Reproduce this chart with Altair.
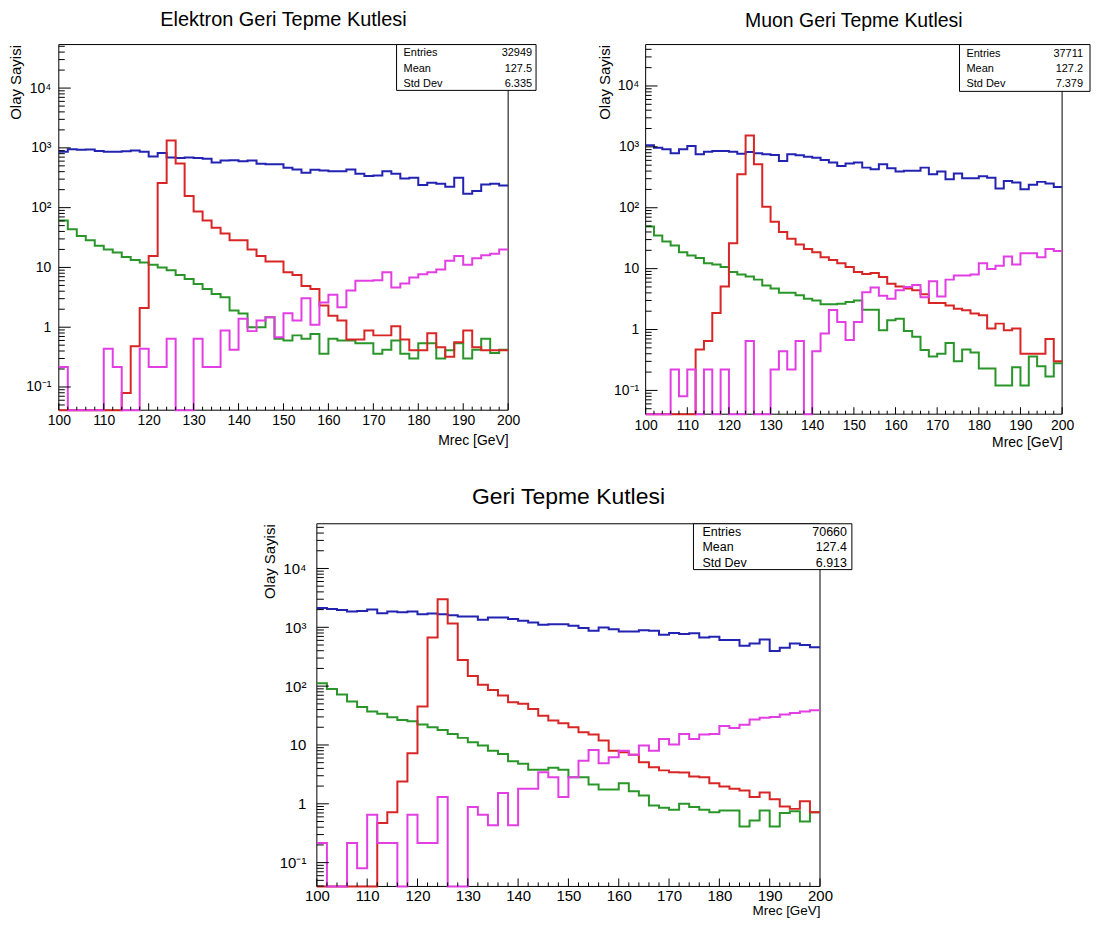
import altair as alt
import pandas as pd

FONT = "Liberation Sans, Arial, Helvetica, sans-serif"

# bin low edges (2 GeV bins from 100 to 200) plus the closing edge
BIN_EDGES = list(range(100, 202, 2))

# ---------------- Elektron ----------------
e_blue = [860, 950, 930, 940, 890, 860, 860, 880, 900, 860, 720, 820, 690, 680, 690, 680, 660, 570, 615, 620,
          600, 615, 540, 530, 530, 464, 435, 383, 430, 419, 408, 408, 435, 369, 337, 346, 408, 369, 308, 316,
          239, 261, 251, 224, 316, 171, 190, 245, 251, 235]
e_red = [0, 0, 0, 0, 0, 0, 0, 0.079, 0.48, 2.1, 15.6, 258, 1325, 548, 157, 86, 61, 46, 37, 28.5,
         28.5, 20, 15.6, 12.6, 12.6, 8.3, 7.5, 4.9, 4.35, 2.3, 1.56, 1.29, 0.62, 0.62, 0.88, 0.73, 0.73, 1.04, 0.62, 0.41,
         0.41, 0.79, 0.46, 0.32, 0.56, 0.88, 0.46, 0.41, 0.41, 0.41]
e_green = [61, 43.5, 33.7, 28.5, 23, 20, 17.8, 15, 13.3, 12.1, 11.1, 10, 9.0, 7.5, 6.4, 5.3, 4.35, 3.6, 3.16, 1.9,
           1.7, 1.0, 1.0, 1.47, 0.64, 0.6, 0.73, 0.64, 0.77, 0.36, 0.64, 0.6, 0.6, 0.54, 0.54, 0.36, 0.42, 0.6, 0.36, 0.3,
           0.54, 0.54, 0.3, 0.41, 0.54, 0.3, 0.42, 0.64, 0.37, 0.42]
e_magenta = [0.215, 0, 0, 0, 0, 0.435, 0.215, 0, 0, 0.435, 0.215, 0.215, 0.64, 0, 0, 0.64, 0.215, 0.215, 0.88, 0.42,
             1.38, 0.86, 1.29, 1.47, 0.68, 1.71, 1.29, 3.04, 1.1, 2.6, 3.5, 2.15, 4.1, 6.0, 6.0, 6.1, 8.3, 4.6, 5.4, 6.8,
             7.7, 8.3, 9.2, 12.9, 15.6, 11.1, 14.3, 16, 17, 20]

# ---------------- Muon ----------------
m_blue = [1060, 970, 910, 783, 910, 1030, 754, 834, 855, 855, 834, 773, 824, 783, 754, 735, 587, 754, 727, 690,
          665, 609, 551, 486, 531, 551, 456, 429, 518, 445, 393, 404, 404, 456, 355, 393, 294, 364, 306, 306,
          330, 311, 207, 276, 259, 202, 238, 266, 250, 220]
m_red = [0, 0, 0, 0, 0, 0, 0.47, 0.65, 1.87, 5.1, 26, 355, 1540, 518, 104, 59, 40, 31, 25, 21,
         18.6, 15.4, 13.9, 12.3, 10.6, 8.8, 8.2, 8.5, 7.3, 5.65, 5.1, 4.7, 4.4, 3.8, 2.73, 2.73, 2.47, 2.2, 2.07, 1.83,
         1.72, 1.04, 1.25, 0.97, 1.04, 0.4, 0.4, 0.4, 0.7, 0.3]
m_green = [49, 35, 28, 24, 18.6, 16.4, 15, 12.3, 11.7, 10.6, 8.8, 8.0, 7.4, 6.6, 5.3, 4.7, 4.0, 4.0, 3.64, 3.2,
           3.0, 2.6, 2.6, 2.66, 2.83, 3.0, 2.12, 2.12, 0.97, 1.42, 1.5, 0.95, 0.76, 0.46, 0.36, 0.4, 0.6, 0.3, 0.47, 0.42,
           0.23, 0.23, 0.12, 0.12, 0.24, 0.12, 0.36, 0.25, 0.17, 0.28]
m_magenta = [0, 0, 0, 0.22, 0.08, 0.22, 0, 0.22, 0, 0.22, 0, 0, 0.65, 0, 0, 0.22, 0.44, 0.22, 0.65, 0,
             0.44, 0.86, 2.1, 1.33, 0.67, 1.33, 4.1, 4.9, 3.6, 3.2, 4.4, 5.0, 5.4, 3.4, 6.2, 3.5, 6.6, 7.7, 7.7, 8.0,
             12.3, 9.9, 11.2, 15.8, 11.7, 17.9, 17.9, 15.4, 21, 19.5]

# ---------------- Combined ----------------
c_blue = [2130, 2040, 1960, 1860, 1900, 2000, 1740, 1860, 1800, 1860, 1670, 1720, 1670, 1610, 1530, 1530, 1340, 1470, 1470, 1380,
          1290, 1210, 1100, 1130, 1130, 1060, 970, 870, 995, 930, 850, 850, 890, 870, 746, 798, 770, 790, 673, 690,
          606, 610, 486, 530, 620, 395, 450, 530, 500, 460]
c_red = [0, 0, 0, 0, 0, 0, 0.47, 0.72, 2.4, 7.2, 45, 673, 3000, 1160, 277, 149, 106, 86, 69, 53,
         50, 41, 31.5, 26, 23.4, 20, 16.4, 15, 11.9, 8.0, 7.5, 6.8, 5.1, 4.2, 3.7, 3.45, 3.4, 2.9, 2.84, 2.24,
         1.97, 1.8, 1.68, 1.3, 1.55, 1.2, 0.9, 0.82, 1.1, 0.72]
c_green = [112, 89, 72, 55, 44, 37, 34, 29.6, 26.6, 25.3, 22.2, 20, 18, 15.4, 13.2, 11.1, 9.8, 8.0, 7.05, 5.3,
           4.8, 3.8, 3.8, 4.1, 3.8, 2.84, 2.84, 2.13, 1.75, 1.75, 2.24, 1.64, 1.38, 0.94, 0.86, 0.79, 1.0, 0.88, 0.79, 0.72,
           0.77, 0.77, 0.41, 0.52, 0.77, 0.41, 0.7, 0.75, 0.5, 0.72]
c_magenta = [0.215, 0, 0, 0.215, 0.08, 0.65, 0.215, 0.215, 0, 0.65, 0.215, 0.215, 1.3, 0, 0, 0.88, 0.65, 0.43, 1.52, 0.43,
             1.8, 1.8, 3.45, 2.84, 1.3, 2.84, 5.4, 8.2, 4.9, 6.2, 8.0, 6.8, 9.8, 8.0, 12.6, 10.2, 15.4, 12.6, 15, 15.4,
             21, 19.5, 22, 27, 29, 30, 33, 35, 37, 39]

STAT_LABELS = ["Entries", "Mean", "Std Dev"]
e_stats = ["32949", "127.5", "6.335"]
m_stats = ["37711", "127.2", "7.379"]
c_stats = ["70660", "127.4", "6.913"]

X_LABELS = [100, 110, 120, 130, 140, 150, 160, 170, 180, 190, 200]
X_MINOR = [v for v in BIN_EDGES if v % 10 != 0]
Y_MAJOR = [0.1, 1, 10, 100, 1000, 10000]
Y_MINOR_ALL = [k * 10.0 ** n for n in range(-2, 5) for k in range(2, 10)]

COLORS = ["#2323b2", "#2a962a", "#d82626", "#e33ee3"]

Y_LABEL_EXPR = ("datum.value < 0.5 ? '10\u207b\u00b9' : datum.value < 5 ? '1' : datum.value < 50 ? '10' : "
                "datum.value < 500 ? '10\u00b2' : datum.value < 5000 ? '10\u00b3' : '10\u2074'")

one = pd.DataFrame({"a": [0]})


def panel(series, stats, title, w, h, ydom, p):
    xs = alt.Scale(domain=[100, 200], nice=False, zero=False)
    ys = alt.Scale(type="log", domain=ydom, nice=False, clamp=True)
    xaxis = alt.Axis(values=X_LABELS, ticks=False, domain=False, grid=False, labelFlush=False,
                     labelOverlap=False, labelFont=FONT, labelFontSize=p["lfs"], labelColor="black",
                     labelPadding=p["xlp"], title="Mrec [GeV]", titleFont=FONT, titleFontSize=p["tfs"],
                     titleFontWeight="normal", titleColor="black", titleX=w, titleY=p["mrec_y"],
                     titleAlign="right", titleBaseline="middle")
    yaxis = alt.Axis(values=Y_MAJOR, labelExpr=Y_LABEL_EXPR, ticks=False, domain=False, grid=False,
                     labelOverlap=False, labelFlush=False, labelFont=FONT, labelFontSize=p["lfs"],
                     labelColor="black", labelPadding=p["ylp"], title="Olay Sayisi", titleFont=FONT,
                     titleFontSize=p["ytfs"], titleFontWeight="normal", titleColor="black",
                     titleX=p["ytx"], titleY=0, titleAngle=270, titleAlign="right",
                     titleBaseline="middle")
    layers = []
    layers.append(alt.Chart(one).mark_rect(fillOpacity=0, stroke="black", strokeWidth=1).encode(
        x=alt.value(0), x2=alt.value(w), y=alt.value(0), y2=alt.value(h)))
    for vals, col in zip(series, COLORS):
        df = pd.DataFrame({"m": BIN_EDGES, "n": list(vals) + [vals[-1]]})
        ch = alt.Chart(df).transform_calculate(plotn="max(datum.n, 0.001)").mark_line(
            interpolate="step-after", color=col, strokeWidth=2).encode(
            x=alt.X("m:Q", scale=xs, axis=xaxis),
            y=alt.Y("plotn:Q", scale=ys, axis=yaxis))
        layers.append(ch)
    ymin = [v for v in Y_MINOR_ALL if ydom[0] < v < ydom[1]]
    layers.append(alt.Chart(pd.DataFrame({"plotn": Y_MAJOR})).mark_rule(
        color="black", strokeWidth=1).encode(
        y=alt.Y("plotn:Q", scale=ys, axis=yaxis), x=alt.value(0), x2=alt.value(p["ymaj"])))
    layers.append(alt.Chart(pd.DataFrame({"plotn": ymin})).mark_rule(color="black", strokeWidth=1).encode(
        y=alt.Y("plotn:Q", scale=ys, axis=yaxis), x=alt.value(0), x2=alt.value(p["ymin"])))
    layers.append(alt.Chart(pd.DataFrame({"m": X_LABELS})).mark_rule(color="black", strokeWidth=1).encode(
        x=alt.X("m:Q", scale=xs, axis=xaxis), y=alt.value(h), y2=alt.value(h - p["xmaj"])))
    layers.append(alt.Chart(pd.DataFrame({"m": X_MINOR})).mark_rule(color="black", strokeWidth=1).encode(
        x=alt.X("m:Q", scale=xs, axis=xaxis), y=alt.value(h), y2=alt.value(h - p["xmin"])))
    # statistics box
    layers.append(alt.Chart(one).mark_rect(fill="white", stroke="black", strokeWidth=1).encode(
        x=alt.value(w + p["bx0"]), x2=alt.value(w + p["bx1"]), y=alt.value(0), y2=alt.value(p["by1"])))
    for lab, val, ry in zip(STAT_LABELS, stats, p["rows"]):
        layers.append(alt.Chart(one).mark_text(text=lab, align="left", baseline="middle", font=FONT,
                                               fontSize=p["sfs"], color="black").encode(
            x=alt.value(w + p["lx"]), y=alt.value(ry)))
        layers.append(alt.Chart(one).mark_text(text=val, align="right", baseline="middle", font=FONT,
                                               fontSize=p["sfs"], color="black").encode(
            x=alt.value(w + p["vx"]), y=alt.value(ry)))
    return alt.layer(*layers).properties(
        width=w, height=h,
        title=alt.TitleParams(text=title, font=FONT, fontSize=p["title_fs"], fontWeight="normal",
                              color="black", anchor="middle", frame="group", baseline="alphabetic",
                              offset=p["title_off"]))


p1 = panel([e_blue, e_green, e_red, e_magenta], e_stats, "Elektron Geri Tepme Kutlesi", 451, 367,
           [0.0409, 53500],
           dict(lfs=14, xlp=3, tfs=14, ytfs=15, mrec_y=30, ylp=8, ytx=-43, ymaj=12, ymin=6, xmaj=7, xmin=3.5,
                bx0=-112, bx1=28, by1=46, rows=[8.7, 24.3, 39.7], lx=-105, vx=24, sfs=11,
                title_fs=20, title_off=-2))
p2 = panel([m_blue, m_green, m_red, m_magenta], m_stats, "Muon Geri Tepme Kutlesi", 418, 371,
           [0.0407, 47900],
           dict(lfs=14, xlp=4, tfs=14, ytfs=15, mrec_y=28, ylp=7, ytx=-41, ymaj=12, ymin=6, xmaj=7, xmin=3.5,
                bx0=-103, bx1=28, by1=47, rows=[9.7, 24.7, 39.7], lx=-96, vx=21, sfs=11,
                title_fs=19.5, title_off=-2))
p3 = panel([c_blue, c_green, c_red, c_magenta], c_stats, "Geri Tepme Kutlesi", 505, 364,
           [0.0394, 57500],
           dict(lfs=15, xlp=2, tfs=13.5, ytfs=15, mrec_y=24.5, ylp=11, ytx=-48, ymaj=12, ymin=7, xmaj=8, xmin=4,
                bx0=-127, bx1=32, by1=46, rows=[8.4, 23.5, 39], lx=-118, vx=27, sfs=12.5,
                title_fs=23, title_off=-4))

spacer = alt.Chart(one).mark_point(opacity=0).properties(width=250, height=10)

top = alt.hconcat(p1, p2, spacing=138, bounds="flush")
bottom = alt.hconcat(spacer, p3, spacing=9, bounds="flush")
chart = alt.vconcat(top, bottom, spacing=37).configure_view(
    strokeWidth=0).properties(padding={"left": 1, "top": 0, "right": 0, "bottom": 0}, background="white")

chart.save("out.html", embed_options={"renderer": "svg", "actions": False})
